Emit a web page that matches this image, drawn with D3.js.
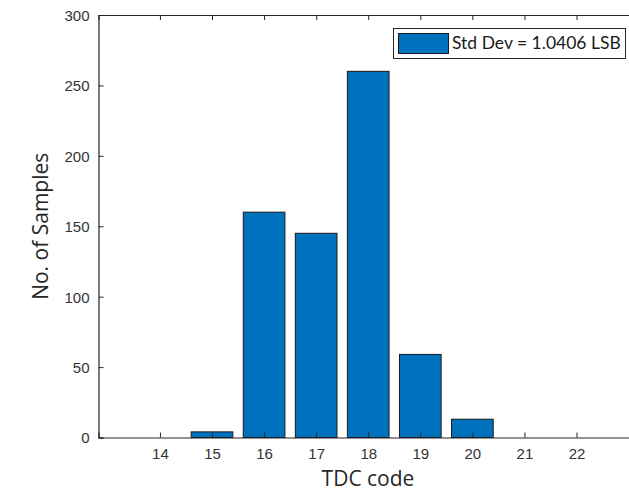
<!DOCTYPE html>
<html>
<head>
<meta charset="utf-8">
<script src="https://cdn.jsdelivr.net/npm/d3@7"></script>
<style>
  body { margin: 0; background: #fff; }
  svg { display: block; }
</style>
</head>
<body>
<script>
// histogram data
var codes = [15, 16, 17, 18, 19, 20];
var counts = [4, 160, 145, 260, 59, 13];
var xTicks = [14, 15, 16, 17, 18, 19, 20, 21, 22];
var yTicks = [0, 50, 100, 150, 200, 250, 300];
var legendLabel = "Std Dev = 1.0406 LSB";

var width = 629,
    height = 492;

// plot box (right side runs past the window, as in the reference)
var plotLeft = 98.5, plotTop = 15, plotBottom = 437.5, plotRight = 639;

var x = d3.scaleLinear().domain([12.82, 23.2]).range([plotLeft, plotRight]);
var y = d3.scaleLinear().domain([0, 300]).range([plotBottom, plotTop]);

var svg = d3.select("body").append("svg")
    .attr("width", width)
    .attr("height", height)
    .style("font-family", "'Liberation Sans', Arial, sans-serif");

var axisColor = "#262626";

// bars
var bw = 0.8 * (x(1) - x(0));
svg.append("g")
    .selectAll("rect")
    .data(codes)
    .enter().append("rect")
    .attr("x", function(d) { return x(d) - bw / 2; })
    .attr("y", function(d, i) { return y(counts[i]); })
    .attr("width", bw)
    .attr("height", function(d, i) { return y(0) - y(counts[i]); })
    .attr("fill", "#0072BD")
    .attr("stroke", "#1a1a1a")
    .attr("stroke-width", 1);

// axes, MATLAB style inward ticks
var xAxis = svg.append("g")
    .attr("transform", "translate(0," + plotBottom + ")")
    .call(d3.axisBottom(x).tickValues(xTicks).tickSize(-5).tickPadding(11).tickFormat(d3.format("d")));

var xTop = svg.append("g")
    .attr("transform", "translate(0," + plotTop + ")")
    .call(d3.axisTop(x).tickValues(xTicks).tickSize(-5).tickFormat(""));

var yAxis = svg.append("g")
    .attr("transform", "translate(" + plotLeft + ",0)")
    .call(d3.axisLeft(y).tickValues(yTicks).tickSize(-5).tickPadding(9));

[xAxis, xTop, yAxis].forEach(function(g) {
  g.select(".domain").attr("stroke", axisColor).attr("stroke-width", 1.2);
  g.selectAll(".tick line").attr("stroke", axisColor);
  g.selectAll(".tick text")
      .attr("fill", "#333")
      .style("font-size", "15px")
      .style("font-family", "'Liberation Sans', Arial, sans-serif");
});
yAxis.selectAll(".tick text").attr("dy", "0.36em");

// axis titles
svg.append("text")
    .attr("x", 368)
    .attr("y", 486)
    .attr("text-anchor", "middle")
    .attr("fill", axisColor)
    .style("font-family", "'Open Sans', Lato, sans-serif")
    .style("font-size", "21px")
    .text("TDC code");

svg.append("text")
    .attr("transform", "translate(48," + (plotTop + plotBottom) / 2 + ") rotate(-90)")
    .attr("text-anchor", "middle")
    .attr("fill", axisColor)
    .style("font-family", "'Open Sans', Lato, sans-serif")
    .style("font-size", "21px")
    .text("No. of Samples");

// legend
var legend = svg.append("g");
legend.append("rect")
    .attr("x", 393.5).attr("y", 28.5)
    .attr("width", 232).attr("height", 30)
    .attr("fill", "#fff")
    .attr("stroke", axisColor)
    .attr("stroke-width", 1);
legend.append("rect")
    .attr("x", 398.5).attr("y", 33.5)
    .attr("width", 50).attr("height", 20)
    .attr("fill", "#0072BD")
    .attr("stroke", "#1a1a1a");
legend.append("text")
    .attr("x", 452)
    .attr("y", 49)
    .attr("fill", "#1a1a1a")
    .style("font-family", "Lato, 'Open Sans', sans-serif")
    .style("font-size", "17.5px")
    .text(legendLabel);
</script>
</body>
</html>
